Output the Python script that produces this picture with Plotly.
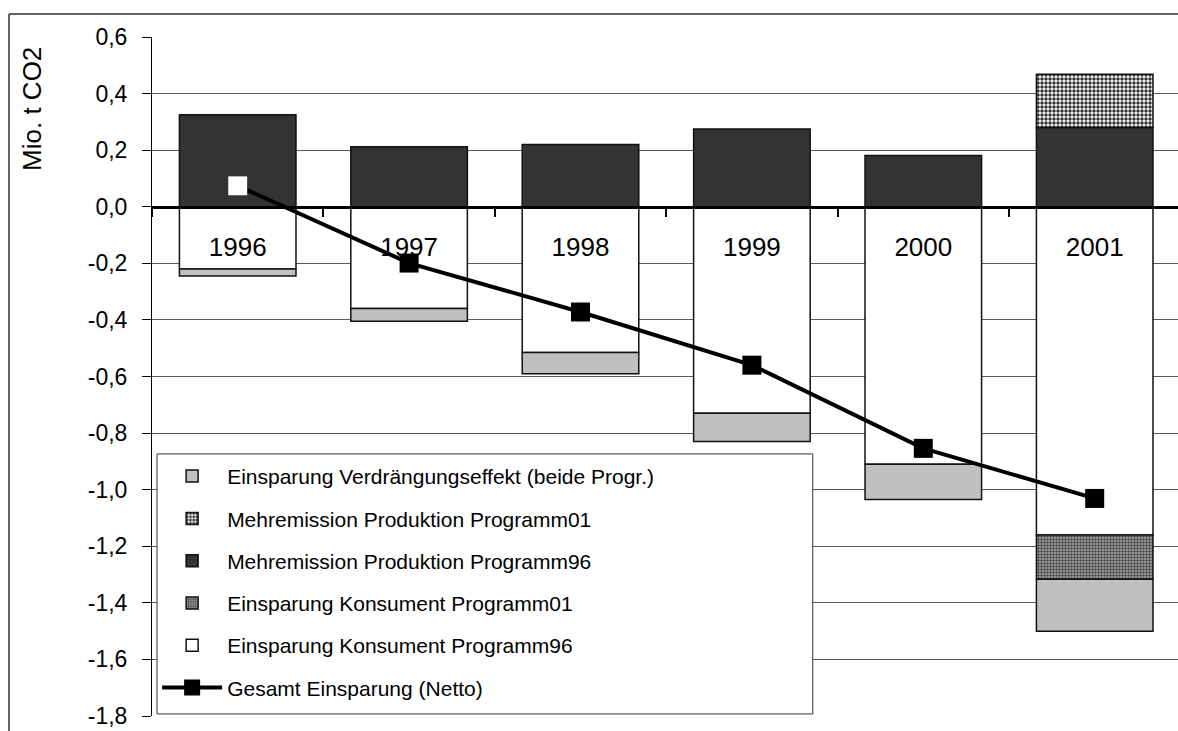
import plotly.graph_objects as go

# ---- data (Mio. t CO2) ----
categories = ["1996", "1997", "1998", "1999", "2000", "2001"]
konsument96 = [-0.220, -0.360, -0.515, -0.730, -0.910, -1.160]
konsument01 = [None, None, None, None, None, -0.157]
verdraengung = [-0.025, -0.045, -0.075, -0.100, -0.125, -0.183]
produktion96 = [0.325, 0.212, 0.220, 0.275, 0.181, 0.280]
produktion01 = [None, None, None, None, None, 0.188]
netto = [0.074, -0.199, -0.372, -0.560, -0.854, -1.031]

y_tickvals = [0.6, 0.4, 0.2, 0.0, -0.2, -0.4, -0.6, -0.8, -1.0, -1.2, -1.4, -1.6, -1.8]
y_ticktext = ["0,6", "0,4", "0,2", "0,0", "-0,2", "-0,4", "-0,6", "-0,8",
              "-1,0", "-1,2", "-1,4", "-1,6", "-1,8"]

FONT = "Liberation Sans, Arial, sans-serif"
outline = dict(color="#111111", width=1.5)

fig = go.Figure()

fig.add_trace(go.Bar(
    x=categories, y=konsument96, name="Einsparung Konsument Programm96",
    marker=dict(color="white", line=outline), legendrank=5, legendgroup="g5"))
fig.add_trace(go.Bar(
    x=categories, y=konsument01, name="Einsparung Konsument Programm01",
    marker=dict(color="#8a8a8a", line=outline,
                pattern=dict(shape=".", size=3, solidity=0.5, fgcolor="#444444",
                             bgcolor="#aaaaaa", fillmode="replace")),
    legendrank=4, legendgroup="g4"))
fig.add_trace(go.Bar(
    x=categories, y=verdraengung, name="Einsparung Verdrängungseffekt (beide Progr.)",
    marker=dict(color="#c0c0c0", line=outline), legendrank=1, legendgroup="g1"))
fig.add_trace(go.Bar(
    x=categories, y=produktion96, name="Mehremission Produktion Programm96",
    marker=dict(color="#333333", line=outline), legendrank=3, legendgroup="g3"))
fig.add_trace(go.Bar(
    x=categories, y=produktion01, name="Mehremission Produktion Programm01",
    marker=dict(color="#aaaaaa", line=outline,
                pattern=dict(shape=".", size=4, solidity=0.6, fgcolor="#333333",
                             bgcolor="white", fillmode="replace")),
    legendrank=2, legendgroup="g2"))
fig.add_trace(go.Scatter(
    x=categories, y=netto, name="Gesamt Einsparung (Netto)", mode="lines+markers",
    line=dict(color="black", width=4),
    marker=dict(symbol="square", size=19, color="black", line=dict(width=0)),
    legendrank=6, legendgroup="g6"))
# first point of the net line is drawn with a white marker in the original
fig.add_trace(go.Scatter(
    x=categories[:1], y=netto[:1], mode="markers", showlegend=False,
    marker=dict(symbol="square", size=19, color="white", line=dict(width=0)),
    hoverinfo="skip"))

fig.update_layout(
    width=1178, height=731,
    margin=dict(l=152, r=0, t=37, b=15),
    paper_bgcolor="white", plot_bgcolor="white",
    font=dict(family=FONT, color="black", size=21),
    barmode="relative", bargap=0.32,
    showlegend=True,
    legend=dict(x=0.005, y=0.383, xanchor="left", yanchor="top",
                bgcolor="rgba(0,0,0,0)", borderwidth=0,
                font=dict(family=FONT, size=21, color="black"),
                tracegroupgap=12, itemwidth=60),
    xaxis=dict(type="category", range=[-0.5, 5.486], anchor="free", position=0.75,
               showline=True, linecolor="black", linewidth=3,
               ticks="outside", tickson="boundaries", ticklen=8, tickwidth=2,
               tickcolor="black", showgrid=False, ticklabelstandoff=16,
               tickfont=dict(family=FONT, size=26, color="black")),
    yaxis=dict(range=[-1.8, 0.6], tickvals=y_tickvals, ticktext=y_ticktext,
               showline=True, linecolor="black", linewidth=1,
               ticks="outside", ticklen=9, tickcolor="black", tickwidth=1,
               showgrid=True, gridcolor="#5a5a5a", gridwidth=1, zeroline=False,
               ticklabelstandoff=10, ticklabeloverflow="allow",
               tickfont=dict(family=FONT, size=23, color="black")),
    annotations=[dict(text="Mio. t CO2", textangle=-90, xref="paper", yref="paper",
                      x=-0.117, y=0.894, xanchor="center", yanchor="middle",
                      showarrow=False, font=dict(family=FONT, size=26, color="black"))],
    shapes=[
        # outer chart frame (top and left edges visible)
        dict(type="line", xref="paper", yref="paper", x0=-0.1394, x1=1.05,
             y0=1.0339, y1=1.0339, line=dict(color="#333333", width=1.5)),
        dict(type="line", xref="paper", yref="paper", x0=-0.1394, x1=-0.1394,
             y0=1.0339, y1=-0.05, line=dict(color="#333333", width=1.5)),
        # legend box
        dict(type="rect", xref="paper", yref="paper", x0=0.0049, x1=0.644,
             y0=0.003, y1=0.386, layer="above", fillcolor="white",
             line=dict(color="#333333", width=1)),
    ],
)

fig.write_html("out.html", config={"displayModeBar": False},
               post_script="document.body.style.margin='0';document.body.style.overflow='hidden';")
